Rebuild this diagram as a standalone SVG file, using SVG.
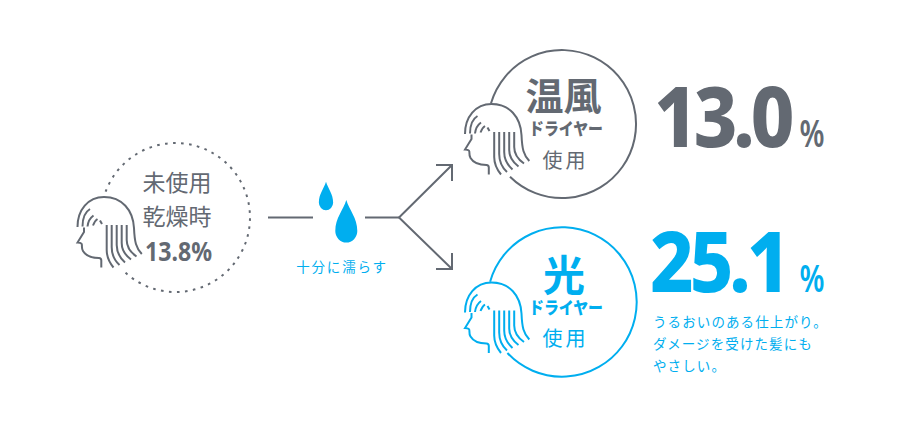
<svg xmlns="http://www.w3.org/2000/svg" xmlns:xlink="http://www.w3.org/1999/xlink" width="900" height="425" viewBox="0 0 900 425">
<style>
text{font-family:"Noto Sans CJK JP","Noto Sans",sans-serif;text-anchor:middle}
.g{fill:#636972;color:#636972}
.b{fill:#00aeef;color:#00aeef}
.ln{fill:none;stroke:currentColor;stroke-width:2}
.line{fill:none;stroke:#636972;stroke-width:2}
.num{font-family:"Noto Sans",sans-serif;font-weight:800;font-size:84px;letter-spacing:-4.5px;text-anchor:start}
.pc{font-family:"Noto Sans",sans-serif;font-weight:600}
.bold{font-weight:700}
.kana{font-weight:900}
.sans{text-anchor:start}
</style>
<defs>
<g id="head" class="ln">
<path d="M101.300 267.500V260.500Q101.300 258 99 258C92 258 86 256 83 251C80 246 85 243 77.500 242.500L84 232V227.500"/>
<path d="M77.500 227C77.500 210 88 197 104 197C122 197 133 210 134 228C134.600 242 136 248 141.800 254"/>
<path d="M82.500 226.500C82.500 219 85 212 90 209"/>
<path d="M87.500 226.500C88 222 90 218 93.500 215.500"/>
<path d="M93 225.500C94 223 95 220.500 97.500 219"/>
<path d="M100 220.500L102 224"/>
<path d="M106.700 225V250C106.700 257 109 262 113.500 267.500"/>
<path d="M111.700 225V247C111.700 254 114 260 119.500 265"/>
<path d="M116.700 225V245C116.700 252 120 258 125 262.500"/>
<path d="M121.700 225V243C121.700 249 125 255 131 259.500"/>
<path d="M126.700 225V240C126.700 246 130 252 136.500 256.500"/>
</g>
<path id="drop" d="M0 0C3 10 11 18 11 31A11 11.500 0 0 1 -11 31C-11 18 -3 10 0 0Z"/>
</defs>

<g id="connectors" class="line">
<path d="M268 217.500H313"/>
<path d="M365 217.500H399"/>
<path d="M452 165L399 217.500L452 269"/>
<path d="M436 165H452V181"/>
<path d="M452 253V269H436"/>
</g>

<g id="node-dry" class="g">
<path d="M105.600 191.700A74.500 74.500 0 1 1 122.600 270" fill="none" stroke="#636972" stroke-width="2" stroke-dasharray="2.600 5.400"/>
<use xlink:href="#head" href="#head"/>
<text x="177" y="191" font-size="23">未使用</text>
<text x="177" y="225" font-size="23">乾燥時</text>
<text style="font-family:'Noto Sans',sans-serif;font-weight:700" x="178.500" y="261" font-size="27" textLength="67" lengthAdjust="spacingAndGlyphs">13.8%</text>
</g>

<g id="node-wet" class="b">
<use xlink:href="#drop" href="#drop" transform="translate(326 181.700) scale(.65 .67)"/>
<use xlink:href="#drop" href="#drop" transform="translate(346.300 200)"/>
<text x="342" y="272" font-size="13.500" letter-spacing="1.800">十分に濡らす</text>
</g>

<g id="node-warm" class="g">
<path d="M491 103.300A74 74 0 1 1 510 176.700" fill="none" stroke="#636972" stroke-width="2"/>
<use xlink:href="#head" href="#head" transform="translate(387.500 -93)"/>
<text class="bold" x="563.500" y="110" font-size="38">温風</text>
<text class="kana" x="566" y="135" font-size="17" textLength="74" lengthAdjust="spacingAndGlyphs">ドライヤー</text>
<text x="565.500" y="168" font-size="20" letter-spacing="3">使用</text>
</g>
<g id="result-warm" class="g">
<text class="num" transform="translate(654 147) scale(.9 1)">13.0</text>
<text class="pc" x="812" y="147" font-size="38" textLength="25" lengthAdjust="spacingAndGlyphs">%</text>
</g>

<g id="node-light" class="b">
<path d="M490.100 281.700A74.700 74.700 0 1 1 507.400 353" fill="none" stroke="#00aeef" stroke-width="2"/>
<use xlink:href="#head" href="#head" transform="translate(387.500 85.500)"/>
<text class="bold" x="564" y="291" font-size="42">光</text>
<text class="kana" x="566" y="314" font-size="17" textLength="74" lengthAdjust="spacingAndGlyphs">ドライヤー</text>
<text x="565.500" y="346" font-size="20" letter-spacing="3">使用</text>
</g>
<g id="result-light" class="b">
<text class="num" transform="translate(650 292) scale(.9 1)">25.1</text>
<text class="pc" x="812" y="292" font-size="38" textLength="25" lengthAdjust="spacingAndGlyphs">%</text>
<text class="sans" x="653" y="327" font-size="13.500" letter-spacing="1.100">うるおいのある仕上がり。</text>
<text class="sans" x="653" y="349" font-size="13.500" letter-spacing="1.100">ダメージを受けた髪にも</text>
<text class="sans" x="653" y="371" font-size="13.500" letter-spacing="1.100">やさしい。</text>
</g>
</svg>
